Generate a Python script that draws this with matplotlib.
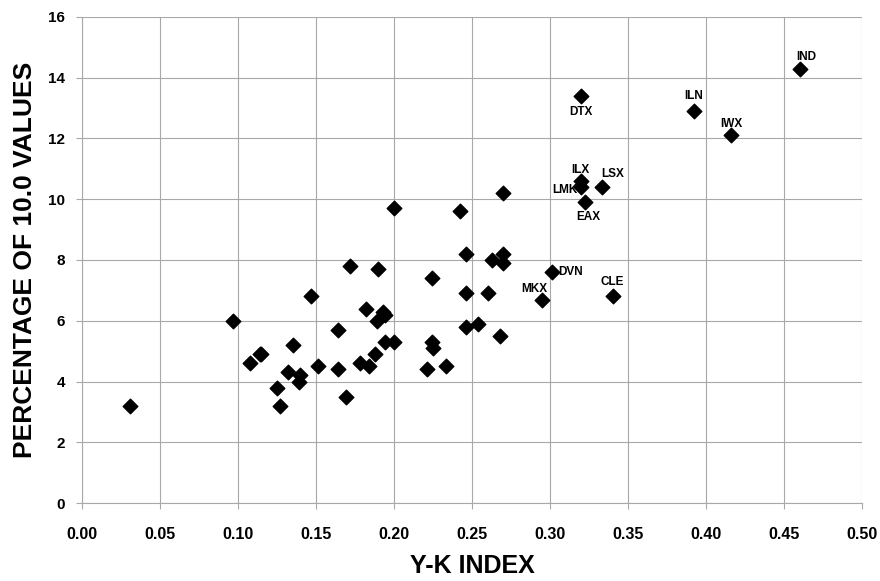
import matplotlib.pyplot as plt

# Y-K index vs percentage of 10.0 values
yk_index = [0.031, 0.097, 0.108, 0.114, 0.115, 0.125, 0.127, 0.132, 0.135, 0.139,
            0.140, 0.147, 0.151, 0.164, 0.164, 0.169, 0.172, 0.178, 0.182, 0.184,
            0.188, 0.189, 0.190, 0.193, 0.194, 0.194, 0.200, 0.200, 0.221, 0.224,
            0.225, 0.224, 0.233, 0.242, 0.246, 0.246, 0.246, 0.254, 0.260, 0.263,
            0.268, 0.270, 0.270, 0.270, 0.295, 0.301, 0.320, 0.320, 0.320, 0.322,
            0.333, 0.340, 0.392, 0.416, 0.460]
pct_10 = [3.2, 6.0, 4.6, 4.9, 4.9, 3.8, 3.2, 4.3, 5.2, 4.0,
          4.2, 6.8, 4.5, 4.4, 5.7, 3.5, 7.8, 4.6, 6.4, 4.5,
          4.9, 6.0, 7.7, 6.3, 6.2, 5.3, 9.7, 5.3, 4.4, 5.3,
          5.1, 7.4, 4.5, 9.6, 8.2, 6.9, 5.8, 5.9, 6.9, 8.0,
          5.5, 8.2, 7.9, 10.2, 6.7, 7.6, 13.4, 10.6, 10.4, 9.9,
          10.4, 6.8, 12.9, 12.1, 14.3]

# labelled stations: (name, x, y, dx px, dy px, ha)
stations = [("IND", 0.460, 14.3, 6, 12, "center"),
            ("ILN", 0.392, 12.9, 0, 15, "center"),
            ("IWX", 0.416, 12.1, 0, 11, "center"),
            ("DTX", 0.320, 13.4, 0, -16, "center"),
            ("ILX", 0.320, 10.6, -1, 11, "center"),
            ("LMK", 0.320, 10.4, -4, -3, "right"),
            ("LSX", 0.333, 10.4, 11, 13, "center"),
            ("EAX", 0.322, 9.9, 4, -15, "center"),
            ("DVN", 0.301, 7.6, 7, 0, "left"),
            ("MKX", 0.295, 6.7, -8, 11, "center"),
            ("CLE", 0.340, 6.8, 0, 14, "center")]

plt.rcParams["font.family"] = "Liberation Sans"
plt.rcParams["font.weight"] = "bold"

fig = plt.figure(figsize=(8.8, 5.81), dpi=100)
ax = fig.add_axes([0.093, 0.134, 0.887, 0.837])

ax.scatter(yk_index, pct_10, marker="D", s=55, color="black", zorder=3)

for name, x, y, dx, dy, ha in stations:
    ax.annotate(name, (x, y), xytext=(dx * 0.72, dy * 0.72), textcoords="offset points",
                ha=ha, va="center", fontsize=8.5, fontweight="bold", zorder=4)

ax.set_xlim(0, 0.5)
ax.set_ylim(0, 16)
ax.set_xticks([i * 0.05 for i in range(11)])
ax.set_yticks(range(0, 17, 2))
ax.set_xticklabels([f"{i * 0.05:.2f}" for i in range(11)], fontsize=11.5, fontweight="bold")
ax.set_yticklabels([str(v) for v in range(0, 17, 2)], fontsize=11, fontweight="bold")
ax.grid(True, color="#a8a8a8", linewidth=0.8)
ax.set_axisbelow(True)
for side in ["top", "right"]:
    ax.spines[side].set_visible(False)
for side in ["left", "bottom"]:
    ax.spines[side].set_color("#a8a8a8")
    ax.spines[side].set_linewidth(0.8)
ax.tick_params(axis="both", color="#a8a8a8", length=4, width=0.8)
ax.tick_params(axis="x", pad=13)
ax.tick_params(axis="y", pad=8)

ax.set_xlabel("Y-K INDEX", fontsize=18, fontweight="bold", labelpad=9)
ax.set_ylabel("PERCENTAGE OF 10.0 VALUES", fontsize=19, fontweight="bold", labelpad=8)

fig.savefig("out.png", dpi=100)
